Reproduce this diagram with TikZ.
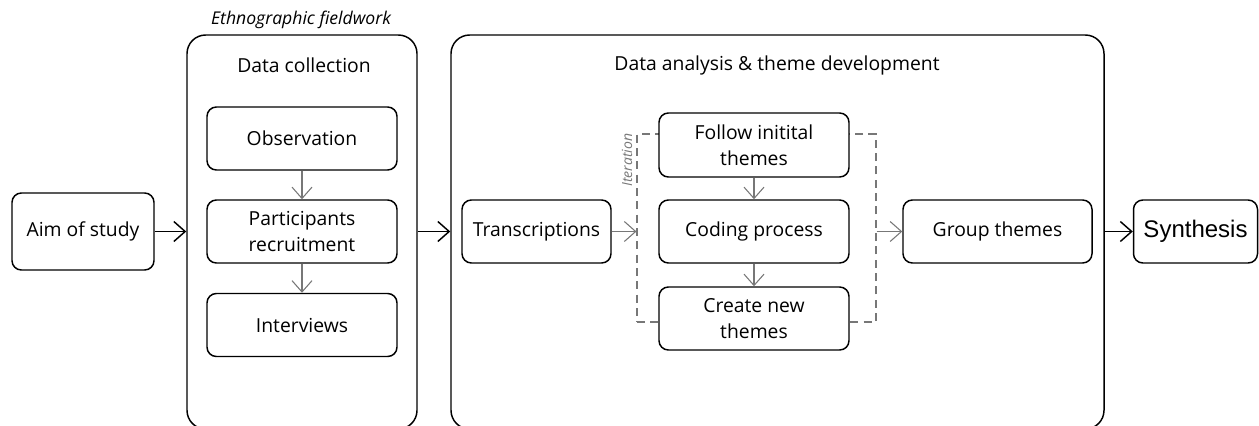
\documentclass[tikz,border=0pt]{standalone}
\usepackage{fontspec}
\setmainfont{Open Sans}
\newfontfamily\synfont{Liberation Sans}
\usetikzlibrary{arrows.meta}
\definecolor{arrgray}{HTML}{777777}
\tikzset{
  box/.style={draw=black, line width=1.1pt, rounded corners=7pt, align=center, inner sep=0pt, font=\fontsize{14.5pt}{19.5pt}\selectfont},
  bigbox/.style={draw=black, line width=1.1pt, rounded corners=14pt, inner sep=0pt},
  title/.style={font=\fontsize{14.5pt}{17pt}\selectfont},
  blackarr/.style={draw=black, line width=1.1pt, -{Straight Barb[length=8.5pt,width=15pt,line width=1.1pt]}},
  grayarr/.style={draw=arrgray, line width=0.8pt, -{Straight Barb[length=8.5pt,width=15pt,line width=0.8pt]}},
}
\begin{document}
\begin{tikzpicture}[x=0.75pt,y=-0.75pt]
\useasboundingbox (0,0) rectangle (1259,425);
\clip (0,0) rectangle (1259,425);
% big containers
\node[bigbox, minimum width=172.5pt, minimum height=295.5pt] (box1) at (302,232) {};
\node[bigbox, minimum width=489.75pt, minimum height=295.5pt] (box2) at (777.5,232) {};
\node[font=\fontsize{13.2pt}{15pt}\selectfont\itshape] (ethno) at (301,20) {Ethnographic fieldwork};
\node[title] (dctitle) at (304,65) {Data collection};
\node[title] (datitle) at (777,65) {Data analysis \& theme development};
% iteration dashed frame
\node[draw=arrgray, dashed, line width=0.8pt, dash pattern=on 6pt off 4pt, minimum width=179.25pt, minimum height=141pt, inner sep=0pt] (iter) at (756.5,228) {};
\node[rotate=90, text=arrgray, font=\fontsize{10.5pt}{12pt}\selectfont\itshape] (iterlbl) at (627,160) {Iteration};
% nodes
\node[box, minimum width=106.5pt, minimum height=57.75pt] (aim) at (83,231.5) {Aim of study};
\node[box, minimum width=142.5pt, minimum height=47.25pt, fill=white] (obs) at (302,138.5) {Observation};
\node[box, minimum width=142.5pt, minimum height=47.25pt, fill=white] (part) at (302,231.5) {Participants\\recruitment};
\node[box, minimum width=142.5pt, minimum height=47.25pt, fill=white] (inter) at (302,325) {Interviews};
\node[box, minimum width=111.75pt, minimum height=47.25pt, fill=white] (trans) at (536.5,231.5) {Transcriptions};
\node[box, minimum width=142.5pt, minimum height=48pt, fill=white] (follow) at (754,145) {Follow initital\\themes};
\node[box, minimum width=142.5pt, minimum height=47.25pt, fill=white] (coding) at (754,231.5) {Coding process};
\node[box, minimum width=142.5pt, minimum height=47.25pt, fill=white] (create) at (754,318.5) {Create new\\themes};
\node[box, minimum width=141.75pt, minimum height=47.25pt, fill=white] (group) at (997.5,231.5) {Group themes};
\node[box, minimum width=93pt, minimum height=47.25pt, fill=white, font=\fontsize{18pt}{20pt}\synfont] (synth) at (1195.5,231.5) {Synthesis};
% connectors
\draw[blackarr] (aim.east) -- (aim.east -| box1.west);
\draw[blackarr] (box1.east |- part.east) -- (part.east -| box2.west);
\draw[grayarr] (obs.south) -- (part.north);
\draw[grayarr] (part.south) -- (inter.north);
\draw[grayarr] (trans.east) -- (trans.east -| iter.west);
\draw[grayarr] (iter.east |- group.west) -- (group.west);
\draw[grayarr] (follow.south) -- (coding.north);
\draw[grayarr] (coding.south) -- (create.north);
\draw[blackarr] (box2.east |- synth.west) -- (synth.west);
\end{tikzpicture}
\end{document}
